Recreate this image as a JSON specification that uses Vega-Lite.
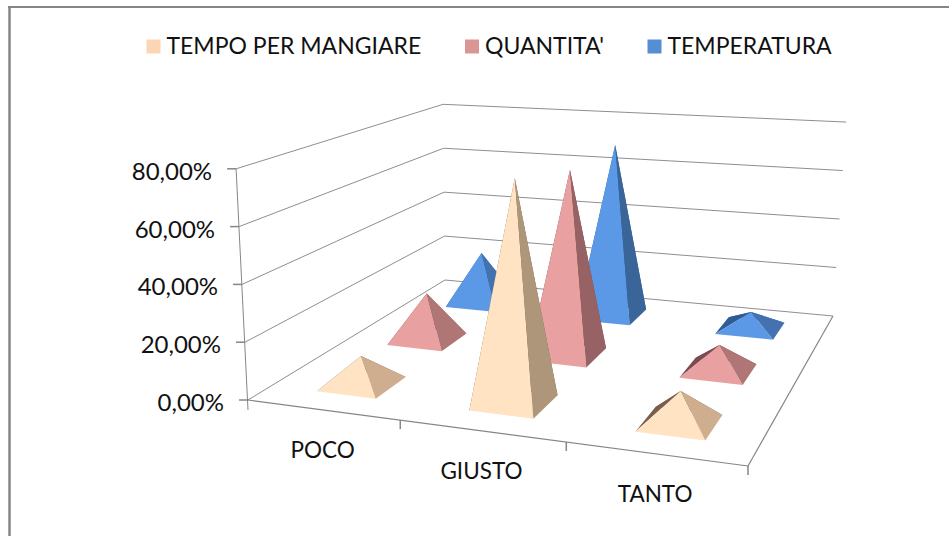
{
"$schema":"https://vega.github.io/schema/vega-lite/v6.json",
"width":949,"height":536,"autosize":"none","padding":0,
"background":"white",
"config":{"view":{"stroke":null},"font":"Lato"},
"datasets":{
"ticks":[{"pct":0},{"pct":20},{"pct":40},{"pct":60},{"pct":80}],
"cats":[{"categoria":"POCO","i":0},{"categoria":"GIUSTO","i":1},{"categoria":"TANTO","i":2}],
"pyr":[
{"categoria":"POCO","serie":"TEMPERATURA","valore":21},
{"categoria":"GIUSTO","serie":"TEMPERATURA","valore":70.5},
{"categoria":"TANTO","serie":"TEMPERATURA","valore":6.5},
{"categoria":"POCO","serie":"QUANTITA'","valore":18},
{"categoria":"GIUSTO","serie":"QUANTITA'","valore":70},
{"categoria":"TANTO","serie":"QUANTITA'","valore":9.5},
{"categoria":"POCO","serie":"TEMPO PER MANGIARE","valore":10},
{"categoria":"GIUSTO","serie":"TEMPO PER MANGIARE","valore":77},
{"categoria":"TANTO","serie":"TEMPO PER MANGIARE","valore":10.6}
]},
"encoding":{
"x":{"field":"px","type":"quantitative","scale":{"domain":[0,949],"nice":false,"zero":false},"axis":null},
"y":{"field":"py","type":"quantitative","scale":{"domain":[536,0],"nice":false,"zero":false},"axis":null}
},
"layer":[
{"data":{"name":"ticks"},
"transform":[
{"calculate":"datum.pct*2.89","as":"h0"},
{"calculate":"248-251*datum.h0/4874","as":"px"},
{"calculate":"400-datum.h0","as":"py"},
{"calculate":"445-54*datum.pct*2.196/4994","as":"px2"},
{"calculate":"280-datum.pct*2.196","as":"py2"}],
"mark":{"type":"rule","stroke":"#8e8e8e","strokeWidth":1},
"encoding":{"x2":{"field":"px2"},"y2":{"field":"py2"}}},
{"data":{"name":"ticks"},
"transform":[
{"calculate":"445-54*datum.pct*2.196/4994","as":"px"},
{"calculate":"280-datum.pct*2.196","as":"py"},
{"calculate":"833+334*datum.pct*2.4245/4958","as":"px2"},
{"calculate":"316-datum.pct*2.4245","as":"py2"}],
"mark":{"type":"rule","stroke":"#8e8e8e","strokeWidth":1},
"encoding":{"x2":{"field":"px2"},"y2":{"field":"py2"}}},
{"data":{"name":"ticks"},
"transform":[
{"calculate":"datum.pct*2.89","as":"h0"},
{"calculate":"248-251*datum.h0/4874","as":"px"},
{"calculate":"400-datum.h0","as":"py"},
{"calculate":"datum.px-9","as":"px2"},
{"calculate":"datum.py","as":"py2"}],
"mark":{"type":"rule","stroke":"#868686","strokeWidth":1.5},
"encoding":{"x2":{"field":"px2"},"y2":{"field":"py2"}}},
{"data":{"name":"ticks"},
"transform":[
{"filter":"datum.pct==80"},
{"calculate":"248-251*231.2/4874","as":"px"},
{"calculate":"400-231.2","as":"py"},
{"calculate":"248","as":"px2"},
{"calculate":"410","as":"py2"}],
"mark":{"type":"rule","stroke":"#868686","strokeWidth":1},
"encoding":{"x2":{"field":"px2"},"y2":{"field":"py2"}}},
{"data":{"name":"ticks"},
"transform":[
{"filter":"datum.pct==0"},
{"calculate":"248","as":"px"},{"calculate":"400","as":"py"},
{"calculate":"748","as":"px2"},{"calculate":"466","as":"py2"}],
"mark":{"type":"rule","stroke":"#868686","strokeWidth":1.2},
"encoding":{"x2":{"field":"px2"},"y2":{"field":"py2"}}},
{"data":{"name":"ticks"},
"transform":[
{"filter":"datum.pct==0"},
{"calculate":"748","as":"px"},{"calculate":"466","as":"py"},
{"calculate":"833","as":"px2"},{"calculate":"316","as":"py2"}],
"mark":{"type":"rule","stroke":"#868686","strokeWidth":1.2},
"encoding":{"x2":{"field":"px2"},"y2":{"field":"py2"}}},
{"data":{"name":"cats"},
"transform":[
{"calculate":"(datum.i+1)/3","as":"u"},
{"calculate":"(407.11*datum.u+248)/(1-0.12419*datum.u)","as":"px"},
{"calculate":"(8.13*datum.u+400)/(1-0.12419*datum.u)","as":"py"},
{"calculate":"datum.px","as":"px2"},
{"calculate":"datum.py+9","as":"py2"}],
"mark":{"type":"rule","stroke":"#868686","strokeWidth":1.5},
"encoding":{"x2":{"field":"px2"},"y2":{"field":"py2"}}},
{"data":{"name":"ticks"},
"transform":[
{"calculate":"datum.pct*2.89","as":"h0"},
{"calculate":"248-251*datum.h0/4874-24","as":"px"},
{"calculate":"400-datum.h0+4","as":"py"},
{"calculate":"replace(format(datum.pct,'.2f'),'.',',')+'%'","as":"lab"}],
"mark":{"type":"text","align":"right","baseline":"middle","font":"Lato","fontSize":24,"color":"#111111"},
"encoding":{"text":{"field":"lab","type":"nominal"}}},
{"data":{"name":"cats"},
"transform":[
{"calculate":"(datum.i+0.5)/3","as":"u"},
{"calculate":"(407.11*datum.u+248)/(1-0.12419*datum.u)","as":"px"},
{"calculate":"(8.13*datum.u+400)/(1-0.12419*datum.u)+41","as":"py"}],
"mark":{"type":"text","align":"center","baseline":"middle","font":"Lato","fontSize":22.5,"color":"#111111"},
"encoding":{"text":{"field":"categoria","type":"nominal"}}},
{"data":{"name":"pyr"},
"transform":[
{"calculate":"indexof(['POCO','GIUSTO','TANTO'],datum.categoria)","as":"ci"},
{"calculate":"indexof(['TEMPO PER MANGIARE','QUANTITA\\'','TEMPERATURA'],datum.serie)","as":"si"},
{"calculate":"(datum.ci+0.5)/3+0.003","as":"uc"},
{"calculate":"(datum.si+0.5)/3","as":"vc"},
{"calculate":"[2,3,0,1]","as":"edge"},
{"flatten":["edge"]},
{"calculate":"[0,1,2]","as":"vtx"},
{"flatten":["vtx"]},
{"calculate":"(datum.edge+datum.vtx)%4","as":"corner"},
{"calculate":"datum.vtx==2?0:((datum.corner==1||datum.corner==2)?1:-1)","as":"su"},
{"calculate":"datum.vtx==2?0:(datum.corner>=2?1:-1)","as":"sv"},
{"calculate":"datum.uc+datum.su*0.066","as":"u"},
{"calculate":"datum.vc+datum.sv*0.072","as":"v"},
{"calculate":"1-0.12419*datum.u+0.31587*datum.v","as":"w"},
{"calculate":"(407.11*datum.u+337.56*datum.v+248)/datum.w","as":"x0"},
{"calculate":"(8.13*datum.u-31.56*datum.v+400)/datum.w","as":"y0"},
{"calculate":"datum.vtx==2?datum.valore*2.89/datum.w:0","as":"alt"},
{"calculate":"datum.x0+(datum.x0-499)*datum.alt/(5274-datum.y0)","as":"px"},
{"calculate":"datum.y0-datum.alt","as":"py"},
{"calculate":"datum.categoria+'/'+datum.serie+'/'+datum.edge","as":"faccia"},
{"calculate":"datum.serie+(datum.edge==0?'|f':datum.edge==1?(datum.valore>50?'|R':'|r'):'|b')","as":"tono"}],
"mark":{"type":"line","filled":true,"strokeWidth":0,"interpolate":"linear"},
"encoding":{
"detail":{"field":"faccia","type":"nominal"},
"order":{"field":"vtx","type":"quantitative"},
"color":{"field":"tono","type":"nominal",
"scale":{
"domain":["TEMPO PER MANGIARE","QUANTITA'","TEMPERATURA",
"TEMPO PER MANGIARE|f","TEMPO PER MANGIARE|r","TEMPO PER MANGIARE|R","TEMPO PER MANGIARE|b",
"QUANTITA'|f","QUANTITA'|r","QUANTITA'|R","QUANTITA'|b",
"TEMPERATURA|f","TEMPERATURA|r","TEMPERATURA|R","TEMPERATURA|b"],
"range":["#FCD5B5","#D99694","#558ED5",
"#FFE3C2","#CFAE8F","#AD9679","#7B5E4C",
"#E8A0A0","#B07676","#976263","#7A4C52",
"#5B98E5","#4472B0","#3A6599","#2F5C94"]},
"legend":{"values":["TEMPO PER MANGIARE","QUANTITA'","TEMPERATURA"],"title":null,"orient":"none","legendX":142,"legendY":35,"direction":"horizontal","columns":3,"gridAlign":"none","columnPadding":38.5,"padding":0,"symbolType":"square","symbolSize":196,"symbolStrokeWidth":0,"symbolOpacity":1,"labelFont":"Lato","labelFontSize":23,"labelColor":"#111111","labelOffset":1.5,"labelLimit":400}}
}},
{"data":{"name":"ticks"},
"transform":[{"filter":"datum.pct==0"},
{"calculate":"9.5","as":"px"},{"calculate":"7","as":"py"},
{"calculate":"9.5","as":"px2"},{"calculate":"536","as":"py2"}],
"mark":{"type":"rule","stroke":"#868686","strokeWidth":2.5},
"encoding":{"x2":{"field":"px2"},"y2":{"field":"py2"}}},
{"data":{"name":"ticks"},
"transform":[{"filter":"datum.pct==0"},
{"calculate":"8","as":"px"},{"calculate":"7","as":"py"},
{"calculate":"949","as":"px2"},{"calculate":"7","as":"py2"}],
"mark":{"type":"rule","stroke":"#868686","strokeWidth":2},
"encoding":{"x2":{"field":"px2"},"y2":{"field":"py2"}}}
]
}
